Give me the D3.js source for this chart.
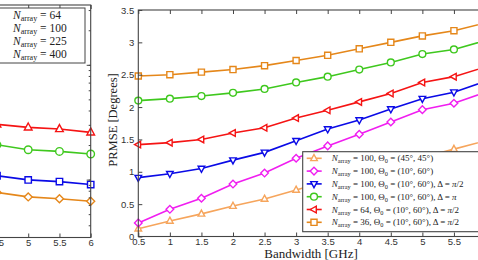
<!DOCTYPE html>
<html>
<head>
<meta charset="utf-8">
<script src="https://cdn.jsdelivr.net/npm/d3@7"></script>
<style>
    body { margin: 0; background: #fff; }
    svg { display: block; font-family: "Liberation Serif", "DejaVu Serif", serif; }
    .tick text { fill: #333; font-size: 9.5px; }
    .tick line { stroke: #444; }
</style>
</head>
<body>
<div id="chart"></div>
<script>

// ---- data ----
// right panel: PRMSE vs bandwidth
const bandwidth = [0.5, 1, 1.5, 2, 2.5, 3, 3.5, 4, 4.5, 5, 5.5, 6];
const prmse45 = [0.12, 0.24, 0.35, 0.47, 0.58, 0.72, 0.86, 0.98, 1.10, 1.22, 1.35, 1.48];
const prmse1060 = [0.21, 0.42, 0.59, 0.81, 0.98, 1.21, 1.40, 1.58, 1.77, 1.96, 2.06, 2.23];
const prmseHalfPi = [0.91, 0.97, 1.05, 1.18, 1.30, 1.48, 1.66, 1.80, 1.97, 2.13, 2.23, 2.40];
const prmsePi = [2.10, 2.13, 2.17, 2.22, 2.28, 2.38, 2.47, 2.58, 2.69, 2.82, 2.89, 3.03];
const prmseN64 = [1.42, 1.45, 1.50, 1.60, 1.68, 1.83, 1.95, 2.08, 2.21, 2.38, 2.47, 2.62];
const prmseN36 = [2.48, 2.50, 2.54, 2.58, 2.64, 2.72, 2.80, 2.90, 3.00, 3.10, 3.18, 3.30];
const bwTicks = [0.5, 1, 1.5, 2, 2.5, 3, 3.5, 4, 4.5, 5, 5.5, 6];
const prmseTicks = [0, 0.5, 1, 1.5, 2, 2.5, 3, 3.5];

const legendN = [100, 100, 100, 100, 64, 36];
const legendTheta = ["(45°, 45°)", "(10°, 60°)", "(10°, 60°)", "(10°, 60°)", "(10°, 60°)", "(10°, 60°)"];
const legendDelta = [null, null, "/2", "", "/2", "/2"];

// left panel (only its right end is in view), log y axis
const leftX = [4.5, 5, 5.5, 6];
const leftN64 = [0.303, 0.285, 0.276, 0.258];
const leftN100 = [0.201, 0.182, 0.176, 0.167];
const leftN225 = [0.108, 0.0994, 0.0961, 0.0905];
const leftN400 = [0.0773, 0.0707, 0.068, 0.0648];
const leftLegend = [64, 100, 225, 400];

// ---- drawing ----
const svg = d3.select("#chart").append("svg")
    .attr("width", 478)
    .attr("height", 260);

// marker path of radius r
function markerPath(shape, r) {
    let h = r * 0.87;
    if (shape === "up") return `M0,${-r}L${h},${r * 0.6}L${-h},${r * 0.6}Z`;
    if (shape === "down") return `M0,${r}L${h},${-r * 0.6}L${-h},${-r * 0.6}Z`;
    if (shape === "left") return `M${-r},0L${r * 0.6},${-h}L${r * 0.6},${h}Z`;
    if (shape === "diamond") return `M0,${-r}L${r},0L0,${r}L${-r},0Z`;
    if (shape === "square") { let s = r * 0.8; return `M${-s},${-s}H${s}V${s}H${-s}Z`; }
    return d3.arc()({innerRadius: 0, outerRadius: r * 0.9, startAngle: 0, endAngle: 2 * Math.PI});
}

function drawSeries(g, xs, ys, x, y, color, shape, r) {
    let pts = xs.map((d, i) => [x(d), y(ys[i])]);
    g.append("path")
        .attr("d", d3.line()(pts))
        .attr("fill", "none")
        .attr("stroke", color)
        .attr("stroke-width", 1.6);
    g.selectAll(null)
        .data(pts)
        .enter()
        .append("path")
        .attr("transform", d => `translate(${d[0]},${d[1]})`)
        .attr("d", markerPath(shape, r))
        .attr("fill", "#fff")
        .attr("stroke", color)
        .attr("stroke-width", 1.4);
}

// N_array label as tspans
function nArray(text, n) {
    text.append("tspan").attr("font-style", "italic").text("N");
    text.append("tspan").attr("font-size", "0.7em").attr("dy", 2).text("array");
    text.append("tspan").attr("dy", -2).text(" = " + n);
}

function frameAxes(g, x, y, left, right, top, bottom, opts) {
    let xa = d3.axisBottom(x).tickValues(opts.xTicks).tickSize(-4).tickPadding(2).tickSizeOuter(0)
        .tickFormat(d => String(d));
    g.append("g").attr("transform", `translate(0,${bottom})`).call(xa)
        .call(a => a.select(".domain").remove());
    g.append("g").attr("transform", `translate(0,${top})`)
        .call(d3.axisTop(x).tickValues(opts.xTicks).tickSize(-4).tickFormat(""))
        .call(a => a.select(".domain").remove());

    if (opts.yTicks) {
        g.append("g").attr("transform", `translate(${left},0)`)
            .call(d3.axisLeft(y).tickValues(opts.yTicks).tickSize(-4).tickPadding(4)
                .tickFormat(d => String(d)))
            .call(a => a.select(".domain").remove());
        g.append("g").attr("transform", `translate(${right},0)`)
            .call(d3.axisRight(y).tickValues(opts.yTicks).tickSize(-4).tickFormat(""))
            .call(a => a.select(".domain").remove());
    } else {
        // log axis: minor and major ticks, inward
        [[y.ticks(), -2], [[0.1, 1], -4]].forEach(([vals, size]) => {
            g.append("g").attr("transform", `translate(${right},0)`)
                .call(d3.axisRight(y).tickValues(vals).tickSize(size).tickFormat(""))
                .call(a => a.select(".domain").remove());
            g.append("g").attr("transform", `translate(${left},0)`)
                .call(d3.axisLeft(y).tickValues(vals).tickSize(size).tickFormat(""))
                .call(a => a.select(".domain").remove());
        });
    }

    g.append("rect")
        .attr("x", left).attr("y", top)
        .attr("width", right - left).attr("height", bottom - top)
        .attr("fill", "none")
        .attr("stroke", "#444")
        .attr("stroke-width", 1.1);
}

// ---- left panel ----
let lp = {left: -253, right: 90.7, top: 5, bottom: 237.5};
let lg = svg.append("g");
let lx = d3.scaleLinear().domain([0.5, 6]).range([lp.left, lp.right]);
let ly = d3.scaleLog().domain([0.0313, 3.32]).range([lp.bottom, lp.top]);

drawSeries(lg, leftX, leftN400, lx, ly, "#e5871a", "diamond", 4);
drawSeries(lg, leftX, leftN225, lx, ly, "#0a0ae6", "square", 4);
drawSeries(lg, leftX, leftN100, lx, ly, "#3fc81e", "circle", 4.2);
drawSeries(lg, leftX, leftN64, lx, ly, "#f51414", "up", 4.4);
frameAxes(lg, lx, ly, lp.left, lp.right, lp.top, lp.bottom, {xTicks: bwTicks});

lg.append("rect")
    .attr("x", -40).attr("y", 8)
    .attr("width", 125).attr("height", 55)
    .attr("fill", "#fff")
    .attr("stroke", "#444");

leftLegend.forEach((n, i) => {
    let t = lg.append("text")
        .attr("x", 13)
        .attr("y", 15 + i * 13.1)
        .attr("dy", "0.35em")
        .attr("font-size", 11.5)
        .attr("fill", "#222");
    nArray(t, n);
});

// ---- right panel ----
let rp = {left: 138.3, right: 485.5, top: 10, bottom: 236.5};
let rg = svg.append("g");
let rx = d3.scaleLinear().domain([0.5, 6]).range([rp.left, rp.right]);
let ry = d3.scaleLinear().domain([0, 3.5]).range([rp.bottom, rp.top]);

let rightSeries = [
    {v: prmse45, color: "#f6a55c", shape: "up"},
    {v: prmse1060, color: "#f01ef0", shape: "diamond"},
    {v: prmseHalfPi, color: "#0a0ae6", shape: "down"},
    {v: prmsePi, color: "#3fc81e", shape: "circle"},
    {v: prmseN64, color: "#f51414", shape: "left"},
    {v: prmseN36, color: "#e5871a", shape: "square"}
];

rightSeries.forEach(s => drawSeries(rg, bandwidth, s.v, rx, ry, s.color, s.shape, 3.8));
frameAxes(rg, rx, ry, rp.left, rp.right, rp.top, rp.bottom, {xTicks: bwTicks, yTicks: prmseTicks});

rg.append("text")
    .attr("transform", "translate(117,120) rotate(-90)")
    .attr("text-anchor", "middle")
    .attr("font-size", 12.5)
    .attr("fill", "#222")
    .text("PRMSE [Degrees]");

rg.append("text")
    .attr("x", 311)
    .attr("y", 258)
    .attr("text-anchor", "middle")
    .attr("font-size", 13)
    .attr("fill", "#222")
    .text("Bandwidth [GHz]");

// legend
let leg = rg.append("g");
leg.append("rect")
    .attr("x", 302.7).attr("y", 151.7)
    .attr("width", 200).attr("height", 80)
    .attr("fill", "#fff")
    .attr("stroke", "#444")
    .attr("stroke-width", 1.1);

rightSeries.forEach((s, i) => {
    let yy = 158.3 + i * 12.8;
    leg.append("line")
        .attr("x1", 306.7).attr("x2", 321.7)
        .attr("y1", yy).attr("y2", yy)
        .attr("stroke", s.color)
        .attr("stroke-width", 1.6);
    leg.append("path")
        .attr("transform", `translate(314,${yy})`)
        .attr("d", markerPath(s.shape, 3.8))
        .attr("fill", "#fff")
        .attr("stroke", s.color)
        .attr("stroke-width", 1.4);

    let t = leg.append("text")
        .attr("x", 331.7)
        .attr("y", yy)
        .attr("dy", "0.35em")
        .attr("font-size", 9)
        .attr("fill", "#222");
    t.append("tspan").attr("font-style", "italic").text("N");
    t.append("tspan").attr("font-size", "0.7em").attr("dy", 2).text("array");
    t.append("tspan").attr("dy", -2).text(" = " + legendN[i] + ", Θ");
    t.append("tspan").attr("font-size", "0.7em").attr("dy", 2).text("0");
    t.append("tspan").attr("dy", -2).text(" = " + legendTheta[i]);
    if (legendDelta[i] !== null) {
        t.append("tspan").text(", Δ = ");
        t.append("tspan").attr("font-style", "italic").text("π");
        t.append("tspan").text(legendDelta[i]);
    }
});

</script>
</body>
</html>
